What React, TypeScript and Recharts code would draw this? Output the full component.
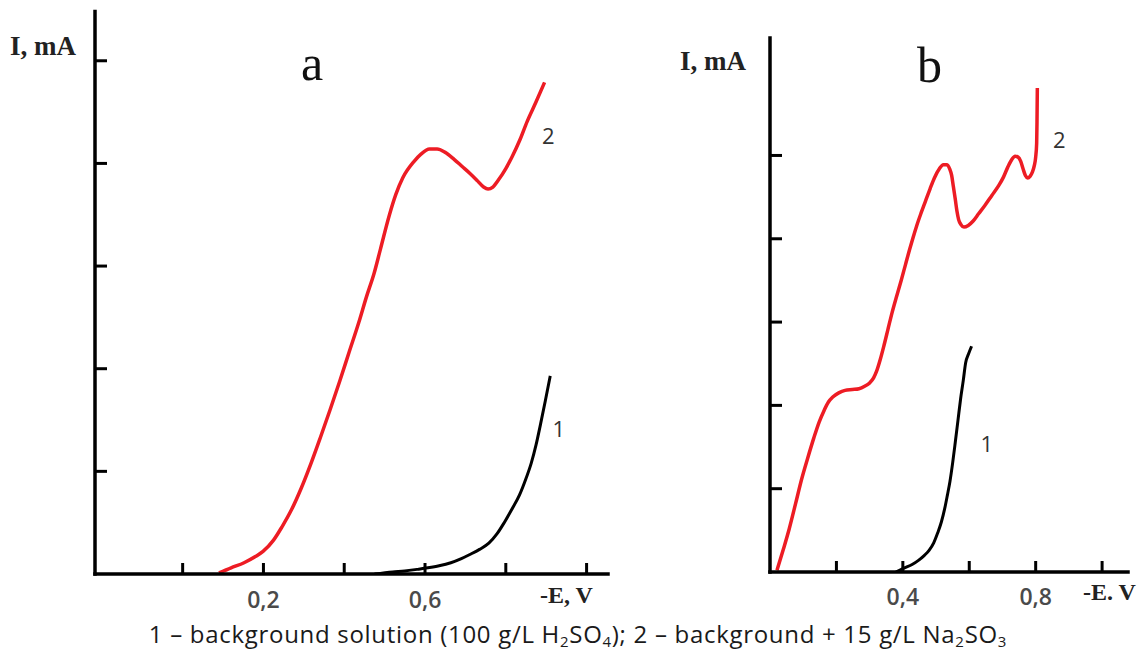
import React from "react";
import { LineChart, Line, XAxis, YAxis, ReferenceDot } from "recharts";

// -E, V against I (relative units, one per tick)
const backgroundA: [number, number][] = [
  [0.475, 0], [0.52, 0.02], [0.55, 0.03], [0.58, 0.045], [0.607, 0.06], [0.635, 0.08],
  [0.664, 0.11], [0.69, 0.15], [0.711, 0.19], [0.735, 0.24], [0.758, 0.3], [0.778, 0.39],
  [0.796, 0.5], [0.815, 0.63], [0.834, 0.77], [0.85, 0.93], [0.863, 1.08], [0.875, 1.26],
  [0.886, 1.46], [0.898, 1.69], [0.91, 1.93],
];

const sulfiteA: [number, number][] = [
  [0.09, 0.01], [0.12, 0.06], [0.152, 0.11], [0.18, 0.17], [0.199, 0.22], [0.225, 0.33],
  [0.246, 0.46], [0.27, 0.63], [0.294, 0.84], [0.318, 1.08], [0.341, 1.33], [0.365, 1.6],
  [0.389, 1.88], [0.412, 2.16], [0.436, 2.45], [0.455, 2.7], [0.474, 2.93], [0.49, 3.17],
  [0.512, 3.5], [0.528, 3.7], [0.545, 3.86], [0.573, 4.02], [0.59, 4.09], [0.611, 4.14],
  [0.63, 4.14], [0.649, 4.11], [0.672, 4.04], [0.692, 3.97], [0.712, 3.9], [0.73, 3.83],
  [0.745, 3.77], [0.756, 3.75], [0.768, 3.77], [0.782, 3.84], [0.8, 3.95], [0.815, 4.06],
  [0.835, 4.23], [0.853, 4.41], [0.875, 4.6], [0.896, 4.79],
];

const backgroundB: [number, number][] = [
  [0.379, 0], [0.405, 0.05], [0.428, 0.09], [0.447, 0.14], [0.465, 0.2], [0.479, 0.26],
  [0.493, 0.35], [0.505, 0.47], [0.516, 0.6], [0.526, 0.76], [0.534, 0.92], [0.542, 1.09],
  [0.55, 1.31], [0.558, 1.56], [0.566, 1.82], [0.574, 2.08], [0.582, 2.3], [0.589, 2.51],
  [0.598, 2.62], [0.607, 2.71],
];

const sulfiteB: [number, number][] = [
  [0.021, 0.02], [0.04, 0.27], [0.058, 0.52], [0.077, 0.82], [0.095, 1.11], [0.113, 1.36],
  [0.132, 1.61], [0.148, 1.8], [0.163, 1.94], [0.176, 2.04], [0.189, 2.1], [0.207, 2.15],
  [0.226, 2.18], [0.248, 2.19], [0.268, 2.2], [0.285, 2.23], [0.3, 2.27], [0.312, 2.33],
  [0.321, 2.41], [0.332, 2.55], [0.342, 2.7], [0.355, 2.91], [0.368, 3.12], [0.382, 3.32],
  [0.395, 3.5], [0.408, 3.69], [0.421, 3.88], [0.432, 4.03], [0.442, 4.16], [0.455, 4.31],
  [0.468, 4.45], [0.482, 4.6], [0.495, 4.73], [0.51, 4.84], [0.522, 4.89], [0.532, 4.89],
  [0.541, 4.84], [0.547, 4.76], [0.552, 4.63], [0.558, 4.47], [0.563, 4.33], [0.568, 4.23],
  [0.575, 4.17], [0.584, 4.14], [0.597, 4.16], [0.611, 4.21], [0.628, 4.3], [0.647, 4.4],
  [0.668, 4.52], [0.689, 4.64], [0.703, 4.74], [0.716, 4.86], [0.728, 4.95], [0.738, 4.99],
  [0.747, 4.98], [0.755, 4.93], [0.762, 4.84], [0.769, 4.76], [0.776, 4.73], [0.783, 4.75],
  [0.79, 4.8], [0.796, 4.88], [0.8, 4.98], [0.803, 5.15], [0.804, 5.4], [0.805, 5.81],
];

const potentialTicksA = [0, 0.2, 0.4, 0.6, 0.8, 1.0];
const potentialTicksB = [0.2, 0.4, 0.6, 0.8, 1.0];
const tickLabelsA: Record<string, string> = { "0.2": "0,2", "0.6": "0,6" };
const tickLabelsB: Record<string, string> = { "0.4": "0,4", "0.8": "0,8" };
const currentTicks = [1, 2, 3, 4, 5];

// curve numbers: [E, I, text]
const curveNamesA: [number, number, string][] = [[0.931, 1.41, "1"], [0.905, 4.27, "2"]];
const curveNamesB: [number, number, string][] = [[0.653, 1.54, "1"], [0.871, 5.18, "2"]];

const RED = "#ed1c24";
const axisStyle = { stroke: "#000", strokeWidth: 3.5, strokeLinecap: "square" as const };
const tickStyle = { stroke: "#000", strokeWidth: 3 };
const toPoints = (rows: [number, number][]) => rows.map(([e, i]) => ({ e, i }));

type PanelProps = {
  width: number;
  height: number;
  margin: { top: number; right: number; bottom: number; left: number };
  xDomain: [number, number];
  xTicks: number[];
  xLabels: Record<string, string>;
  tickMargin: number;
  yDomain: [number, number];
  background: [number, number][];
  sulfite: [number, number][];
  names: [number, number, string][];
};

const Panel = ({ width, height, margin, xDomain, xTicks, xLabels, tickMargin, yDomain, background, sulfite, names }: PanelProps) => (
  <LineChart width={width} height={height} margin={margin}>
    <XAxis
      type="number"
      dataKey="e"
      domain={xDomain}
      ticks={xTicks}
      interval={0}
      allowDataOverflow
      height={40}
      tickSize={-11}
      tickMargin={tickMargin}
      axisLine={axisStyle}
      tickLine={tickStyle}
      tick={{ fill: "#4a4a4a", fontSize: 23, fontFamily: "Open Sans", fontWeight: 600 }}
      tickFormatter={(v: number) => xLabels[v.toFixed(1)] ?? ""}
    />
    <YAxis
      type="number"
      domain={yDomain}
      ticks={currentTicks}
      interval={0}
      allowDataOverflow
      width={1}
      tickSize={-12}
      axisLine={axisStyle}
      tickLine={tickStyle}
      tickFormatter={() => ""}
    />
    <Line data={toPoints(background)} dataKey="i" type="monotone" stroke="#000" strokeWidth={3} dot={false} isAnimationActive={false} />
    <Line data={toPoints(sulfite)} dataKey="i" type="monotone" stroke={RED} strokeWidth={3.5} dot={false} isAnimationActive={false} />
    {names.map(([e, i, text]) => (
      <ReferenceDot
        key={text}
        x={e}
        y={i}
        r={0}
        fill="none"
        stroke="none"
        label={{ value: text, position: "center", fill: "#333", fontSize: 22, fontFamily: "Open Sans" }}
      />
    ))}
  </LineChart>
);

const serif = "'Liberation Serif', 'DejaVu Serif', serif";
const abs = (left: number, top: number, extra: React.CSSProperties = {}): React.CSSProperties => ({
  position: "absolute",
  left,
  top,
  lineHeight: 1,
  whiteSpace: "nowrap",
  ...extra,
});
const sub: React.CSSProperties = { fontSize: 15, verticalAlign: "-0.25em", lineHeight: 0 };

export default function App() {
  return (
    <div style={{ position: "absolute", left: 0, top: 0, width: 1148, height: 650, background: "#fff", overflow: "hidden" }}>
      <div style={{ position: "absolute", left: 0, top: 0 }}>
        <Panel
          width={640}
          height={614}
          margin={{ top: 11.5, right: 32, bottom: 0, left: 94 }}
          xDomain={[-0.217, 1.053]}
          xTicks={potentialTicksA}
          xLabels={tickLabelsA}
          tickMargin={29}
          yDomain={[0, 5.48]}
          background={backgroundA}
          sulfite={sulfiteA}
          names={curveNamesA}
        />
      </div>
      <div style={{ position: "absolute", left: 640, top: 0 }}>
        <Panel
          width={508}
          height={612}
          margin={{ top: 38, right: 20, bottom: 0, left: 129 }}
          xDomain={[0, 1.078]}
          xTicks={potentialTicksB}
          xLabels={tickLabelsB}
          tickMargin={28}
          yDomain={[0, 6.41]}
          background={backgroundB}
          sulfite={sulfiteB}
          names={curveNamesB}
        />
      </div>

      <div style={abs(10, 33, { fontFamily: serif, fontSize: 27, fontWeight: 700, color: "#222" })}>I, mA</div>
      <div style={abs(680, 48, { fontFamily: serif, fontSize: 27, fontWeight: 700, color: "#222" })}>I, mA</div>
      <div style={abs(301, 38, { fontFamily: serif, fontSize: 50, color: "#111" })}>a</div>
      <div style={abs(917, 40, { fontFamily: serif, fontSize: 50, color: "#111" })}>b</div>
      <div style={abs(540, 583, { fontFamily: serif, fontSize: 24, fontWeight: 700, color: "#222" })}>-E, V</div>
      <div style={abs(1083, 580, { fontFamily: serif, fontSize: 24, fontWeight: 700, color: "#222" })}>-E. V</div>

      <div
        style={{
          position: "absolute",
          left: 0,
          top: 622,
          width: 1156,
          textAlign: "center",
          fontFamily: "'Open Sans', sans-serif",
          fontSize: 24,
          letterSpacing: 0.7,
          lineHeight: 1,
          color: "#1a1a1a",
          whiteSpace: "nowrap",
        }}
      >
        1 – background solution (100 g/L H<span style={sub}>2</span>SO<span style={sub}>4</span>); 2 – background + 15 g/L Na
        <span style={sub}>2</span>SO<span style={sub}>3</span>
      </div>
    </div>
  );
}
